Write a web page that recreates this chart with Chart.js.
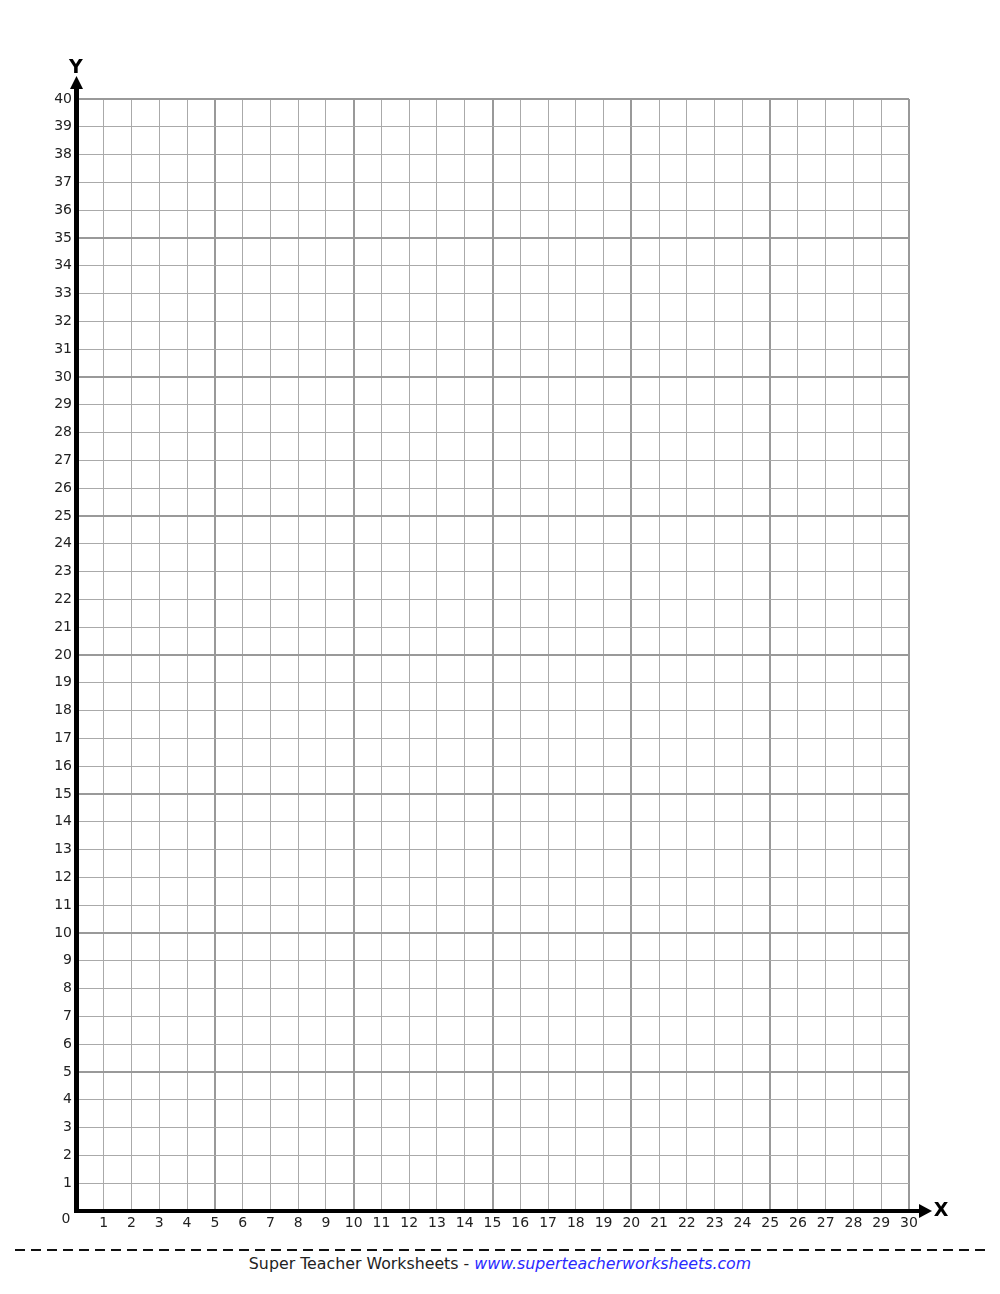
<!DOCTYPE html>
<html lang="en">
<head>
    <meta charset="UTF-8">
    <title>Coordinate Grid</title>
    <script src="https://cdn.jsdelivr.net/npm/chart.js@4.4.0/dist/chart.umd.min.js"></script>
    <style>
        html, body { margin: 0; padding: 0; background: #fff; }
        #wrap { position: relative; width: 1000px; height: 1294px; }
        #grid { position: absolute; left: 0; top: 0; }
        .dash {
            position: absolute; left: 15px; top: 1249px; width: 970px; height: 2px;
            background: repeating-linear-gradient(to right, #111 0 10px, transparent 10px 16px);
        }
        .footer {
            position: absolute; left: 0; top: 1254px; width: 1000px; text-align: center;
            font-family: "DejaVu Sans", sans-serif; font-size: 15.8px; color: #222;
        }
        .footer a { color: #2a2aff; font-style: italic; text-decoration: none; }
    </style>
</head>
<body>
<div id="wrap">
    <canvas id="grid" width="1000" height="1240"></canvas>
    <div class="dash"></div>
    <div class="footer">Super Teacher Worksheets - <a>www.superteacherworksheets.com</a></div>
</div>

<script>
    // tick values for the two axes
    const xTicks = [0, 1, 2, 3, 4, 5, 6, 7, 8, 9, 10, 11, 12, 13, 14, 15, 16, 17, 18, 19, 20, 21, 22, 23, 24, 25, 26, 27, 28, 29, 30];
    const yTicks = [0, 1, 2, 3, 4, 5, 6, 7, 8, 9, 10, 11, 12, 13, 14, 15, 16, 17, 18, 19, 20,
                    21, 22, 23, 24, 25, 26, 27, 28, 29, 30, 31, 32, 33, 34, 35, 36, 37, 38, 39, 40];
    const xAxisName = 'X';
    const yAxisName = 'Y';
    const originLabel = '0';

    const tickFont = { family: 'DejaVu Sans', size: 14 };

    function gridColor(ctx) {
        return ctx.tick && ctx.tick.value % 5 === 0 ? '#999999' : '#aaaaaa';
    }
    function gridWidth(ctx) {
        return ctx.tick && ctx.tick.value % 5 === 0 ? 2 : 1;
    }

    // arrows, axis names and the origin label
    const axisExtras = {
        id: 'axisExtras',
        afterDraw(chart) {
            const c = chart.ctx;
            const xs = chart.scales.x;
            const ys = chart.scales.y;
            const x0 = xs.getPixelForValue(xTicks[0]);
            const y0 = ys.getPixelForValue(yTicks[0]);
            const xEnd = xs.getPixelForValue(xTicks[xTicks.length - 1]);
            const yEnd = ys.getPixelForValue(yTicks[yTicks.length - 1]);
            c.save();
            c.fillStyle = '#000';
            c.strokeStyle = '#000';
            // y arrow
            c.lineWidth = 5;
            c.beginPath();
            c.moveTo(x0 + 0.5, yEnd);
            c.lineTo(x0 + 0.5, yEnd - 12);
            c.stroke();
            c.beginPath();
            c.moveTo(x0 + 0.5, yEnd - 23);
            c.lineTo(x0 - 6, yEnd - 10);
            c.lineTo(x0 + 7, yEnd - 10);
            c.closePath();
            c.fill();
            // x arrow
            c.lineWidth = 4;
            c.beginPath();
            c.moveTo(xEnd, y0);
            c.lineTo(xEnd + 12, y0);
            c.stroke();
            c.beginPath();
            c.moveTo(xEnd + 23, y0);
            c.lineTo(xEnd + 10, y0 - 7);
            c.lineTo(xEnd + 10, y0 + 7);
            c.closePath();
            c.fill();
            // names
            c.font = 'bold 19px "DejaVu Sans"';
            c.textAlign = 'center';
            c.textBaseline = 'middle';
            c.fillText(yAxisName, x0, yEnd - 31);
            c.fillText(xAxisName, xEnd + 32, y0);
            // origin
            c.font = '14px "DejaVu Sans"';
            c.fillStyle = '#222';
            c.fillText(originLabel, x0 - 10, y0 + 8);
            c.restore();
        }
    };

    new Chart(document.getElementById('grid'), {
        type: 'scatter',
        data: { datasets: [{ data: [] }] },
        options: {
            responsive: false,
            animation: false,
            layout: { padding: { top: 99, right: 91, left: 0, bottom: 0 } },
            plugins: { legend: { display: false }, tooltip: { enabled: false } },
            scales: {
                x: {
                    type: 'linear',
                    min: xTicks[0],
                    max: xTicks[xTicks.length - 1],
                    afterBuildTicks: scale => { scale.ticks = xTicks.map(v => ({ value: v })); },
                    afterFit: scale => { scale.height = 29; },
                    grid: { color: gridColor, lineWidth: gridWidth, drawTicks: false },
                    border: { color: '#000', width: 4 },
                    ticks: {
                        autoSkip: false,
                        maxRotation: 0,
                        padding: 4,
                        color: '#222',
                        font: tickFont,
                        callback: v => (v === 0 ? '' : String(v))
                    }
                },
                y: {
                    type: 'linear',
                    min: yTicks[0],
                    max: yTicks[yTicks.length - 1],
                    afterBuildTicks: scale => { scale.ticks = yTicks.map(v => ({ value: v })); },
                    afterFit: scale => { scale.width = 76; },
                    grid: { color: gridColor, lineWidth: gridWidth, drawTicks: false },
                    border: { color: '#000', width: 5 },
                    ticks: {
                        autoSkip: false,
                        padding: 4,
                        color: '#222',
                        font: tickFont,
                        callback: v => (v === 0 ? '' : String(v))
                    }
                }
            }
        },
        plugins: [axisExtras]
    });
</script>
</body>
</html>
